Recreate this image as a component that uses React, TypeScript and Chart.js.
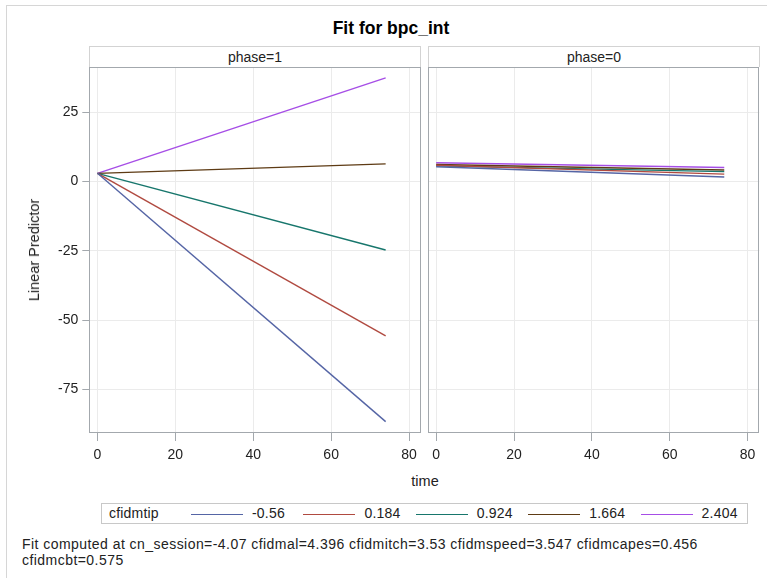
import React, { useEffect, useRef } from "react";
import { Chart, registerables } from "chart.js";

Chart.register(...registerables);

// ---- data ----
const levels = ["-0.56", "0.184", "0.924", "1.664", "2.404"];
const seriesColors = ["#5565a5", "#b04a40", "#17766c", "#5e3b14", "#a64ee6"];
const timePoints = [0, 74];
const phase1Start = [3.0, 3.0, 3.0, 3.0, 3.0];
const phase1End = [-86.7, -55.7, -24.7, 6.4, 37.5];
const phase0Start = [5.4, 5.9, 5.7, 6.2, 6.8];
const phase0End = [1.7, 2.7, 3.6, 4.2, 5.1];
const xTicks = [0, 20, 40, 60, 80];
const yTicks = [-75, -50, -25, 0, 25];
const panelLabels = ["phase=1", "phase=0"];

const FONT = "'Liberation Sans', Arial, sans-serif";

const framePlugin = {
  id: "frame",
  afterDraw(chart: any) {
    const { ctx, chartArea } = chart;
    const l = Math.round(chartArea.left) + 0.5;
    const t = Math.round(chartArea.top) + 0.5;
    const r = Math.round(chartArea.right) - 0.5;
    const b = Math.round(chartArea.bottom) - 0.5;
    ctx.save();
    ctx.strokeStyle = "#a3a8ad";
    ctx.lineWidth = 1;
    ctx.strokeRect(l, t, r - l, b - t);
    ctx.restore();
  },
};

function buildDatasets(start: number[], end: number[]) {
  return levels.map((lv, k) => ({
    label: lv,
    data: timePoints.map((t, i) => ({ x: t, y: i === 0 ? start[k] : end[k] })),
    borderColor: seriesColors[k],
    borderWidth: 1.4,
    pointRadius: 0,
    fill: false,
  }));
}

function makeConfig(start: number[], end: number[], showY: boolean, padding: any) {
  return {
    type: "line" as const,
    data: { datasets: buildDatasets(start, end) },
    plugins: [framePlugin],
    options: {
      animation: false,
      responsive: false,
      devicePixelRatio: 1,
      layout: { padding },
      plugins: { legend: { display: false }, title: { display: false }, tooltip: { enabled: false } },
      scales: {
        x: {
          type: "linear",
          min: -2.1,
          max: 83,
          afterBuildTicks: (axis: any) => {
            axis.ticks = xTicks.map((v) => ({ value: v }));
          },
          afterFit: (s: any) => {
            s.height = 30;
          },
          border: { display: false },
          grid: { color: "#ebebeb", lineWidth: 1, drawTicks: true, tickLength: 8, tickColor: "#a3a8ad" },
          ticks: { color: "#222", font: { family: FONT, size: 14 }, padding: 6, maxRotation: 0 },
        },
        y: {
          type: "linear",
          min: -90.8,
          max: 41.3,
          afterBuildTicks: (axis: any) => {
            axis.ticks = yTicks.map((v) => ({ value: v }));
          },
          afterFit: (s: any) => {
            s.width = showY ? 79.3 : 0;
          },
          border: { display: false },
          grid: { color: "#ebebeb", lineWidth: 1, drawTicks: showY, tickLength: 7, tickColor: "#a3a8ad" },
          ticks: { display: showY, color: "#222", font: { family: FONT, size: 14 }, padding: 4 },
        },
      },
    },
  };
}

function Panel(props: { start: number[]; end: number[]; showY: boolean; left: number; width: number; padding: any }) {
  const ref = useRef<HTMLCanvasElement | null>(null);
  useEffect(() => {
    if (!ref.current) return;
    const chart = new Chart(ref.current, makeConfig(props.start, props.end, props.showY, props.padding) as any);
    return () => chart.destroy();
  }, []);
  return (
    <canvas
      ref={ref}
      width={props.width}
      height={420}
      style={{ position: "absolute", left: props.left, top: 50, width: props.width, height: 420 }}
    />
  );
}

export default function App() {
  const headerStyle = (left: number, width: number): React.CSSProperties => ({
    position: "absolute",
    left,
    top: 46,
    width: width - 2,
    height: 20,
    border: "1px solid #d3d3d3",
    borderBottom: "none",
    textAlign: "center",
    fontSize: 14,
    lineHeight: "21px",
    color: "#222",
  });
  return (
    <div
      style={{
        position: "absolute",
        left: 0,
        top: 0,
        width: 767,
        height: 578,
        overflow: "hidden",
        background: "#fff",
        fontFamily: FONT,
        color: "#222",
      }}
    >
      <div style={{ position: "absolute", left: 6, top: 5, width: 900, height: 700, border: "1px solid #d6d6d6" }} />
      <div
        style={{
          position: "absolute",
          left: 241,
          top: 17,
          width: 300,
          textAlign: "center",
          fontWeight: "bold",
          fontSize: 17.5,
          lineHeight: "22px",
          color: "#000",
        }}
      >
        Fit for bpc_int
      </div>
      <div style={headerStyle(89, 332)}>{panelLabels[0]}</div>
      <div style={headerStyle(428, 332)}>{panelLabels[1]}</div>
      <Panel start={phase1Start} end={phase1End} showY={true} left={10} width={415} padding={{ left: 0, right: 4.3, top: 17.3, bottom: 7 }} />
      <Panel start={phase0Start} end={phase0End} showY={false} left={425} width={342} padding={{ left: 3, right: 7.7, top: 17.3, bottom: 7 }} />
      <div
        style={{
          position: "absolute",
          left: 34,
          top: 250,
          transform: "translate(-50%, -50%) rotate(-90deg)",
          whiteSpace: "nowrap",
          fontSize: 14.5,
          lineHeight: "16px",
        }}
      >
        Linear Predictor
      </div>
      <div
        style={{
          position: "absolute",
          left: 375,
          top: 473,
          width: 100,
          textAlign: "center",
          fontSize: 14.5,
          lineHeight: "16px",
        }}
      >
        time
      </div>
      <div
        style={{
          position: "absolute",
          left: 101,
          top: 503,
          width: 645,
          height: 19,
          border: "1px solid #c8c8c8",
          fontSize: 14,
          lineHeight: "19px",
          letterSpacing: "0.2px",
        }}
      >
        <span style={{ position: "absolute", left: 7, top: 0 }}>cfidmtip</span>
        {levels.map((lv, k) => (
          <span key={lv} style={{ position: "absolute", left: 89 + k * 112.4, top: 0, whiteSpace: "nowrap" }}>
            <span
              style={{
                display: "inline-block",
                width: 52,
                height: 0,
                borderTop: `1.5px solid ${seriesColors[k]}`,
                verticalAlign: "middle",
                marginRight: 9,
              }}
            />
            {lv}
          </span>
        ))}
      </div>
      <div
        style={{
          position: "absolute",
          left: 22,
          top: 536,
          fontSize: 14,
          lineHeight: "16px",
          whiteSpace: "nowrap",
          letterSpacing: "0.45px",
        }}
      >
        Fit computed at cn_session=-4.07 cfidmal=4.396 cfidmitch=3.53 cfidmspeed=3.547 cfidmcapes=0.456
        <br />
        cfidmcbt=0.575
      </div>
    </div>
  );
}
